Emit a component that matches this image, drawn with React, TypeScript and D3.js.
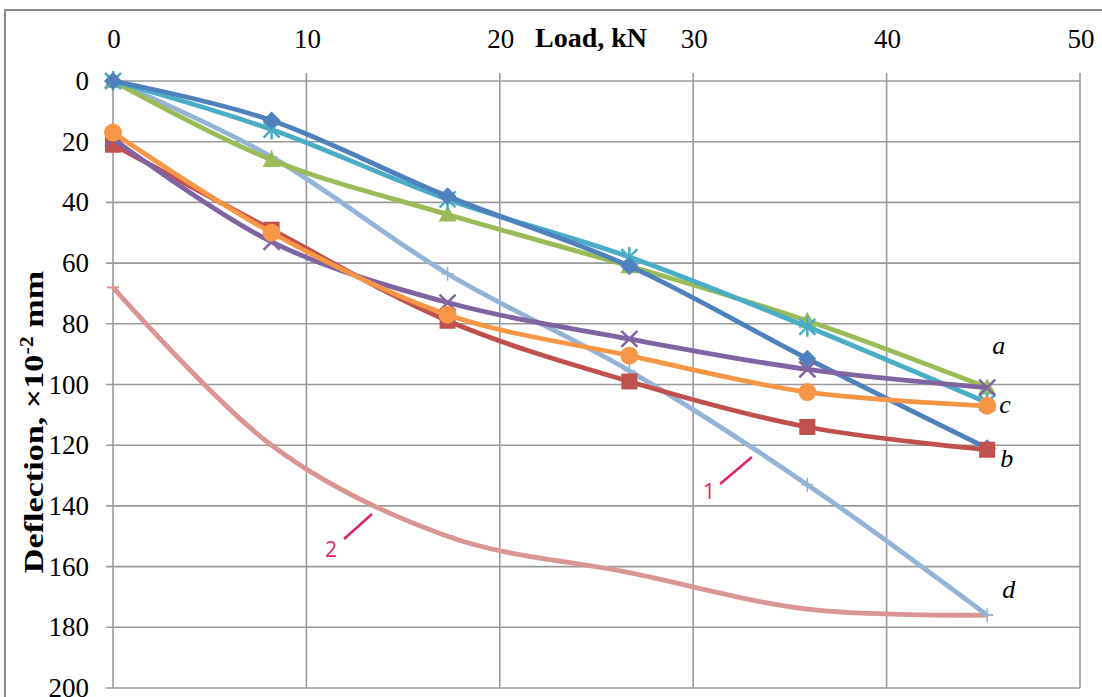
import React from "react";
import * as d3 from "d3";

const loads = [0, 8.2, 17.3, 26.7, 35.9, 45.2];
const xTicks = [0, 10, 20, 30, 40, 50];
const yTicks = [0, 20, 40, 60, 80, 100, 120, 140, 160, 180, 200];

const seriesBlue = [0, 13, 38, 61, 91.5, 121];
const seriesRed = [21, 49, 79, 99, 114, 121.5];
const seriesGreen = [0, 26, 44, 61, 79, 101];
const seriesPurple = [19, 53, 73, 85, 95, 101];
const seriesTeal = [0, 16, 39, 58, 81, 106];
const seriesOrange = [17, 50, 77, 90.5, 102.5, 107];
const series1 = [0, 25, 63.5, 95.5, 133, 176];
const series2 = [68, 120, 150, 162, 174, 176];

const seriesDefs = [
  { name: "2", values: series2, color: "#D99694", marker: "dash" },
  { name: "1", values: series1, color: "#95B3D7", marker: "plus" },
  { name: "green", values: seriesGreen, color: "#9BBB59", marker: "triangle" },
  { name: "teal", values: seriesTeal, color: "#4BACC6", marker: "star" },
  { name: "blue", values: seriesBlue, color: "#4F81BD", marker: "diamond" },
  { name: "red", values: seriesRed, color: "#C0504D", marker: "square" },
  { name: "purple", values: seriesPurple, color: "#8064A2", marker: "x" },
  { name: "orange", values: seriesOrange, color: "#F79646", marker: "circle" },
];

const endLabels = [
  { text: "a", x: 45.2, y: 101, dx: 5, dy: -34 },
  { text: "c", x: 45.2, y: 104, dx: 12, dy: 16 },
  { text: "b", x: 45.2, y: 121.5, dx: 13, dy: 17 },
  { text: "d", x: 45.2, y: 176, dx: 15, dy: -17 },
];

function Marker({ type, x, y, color }: { type: string; x: number; y: number; color: string }) {
  switch (type) {
    case "diamond":
      return <path d={`M${x},${y - 9}L${x + 9},${y}L${x},${y + 9}L${x - 9},${y}Z`} fill={color} />;
    case "square":
      return <rect x={x - 8} y={y - 8} width={16} height={16} fill={color} />;
    case "triangle":
      return <path d={`M${x},${y - 9}L${x + 9},${y + 7}L${x - 9},${y + 7}Z`} fill={color} />;
    case "circle":
      return <circle cx={x} cy={y} r={9} fill={color} />;
    case "x":
      return (
        <path d={`M${x - 8},${y - 8}L${x + 8},${y + 8}M${x - 8},${y + 8}L${x + 8},${y - 8}`} stroke={color} strokeWidth={2.5} />
      );
    case "star":
      return (
        <path
          d={`M${x - 8},${y - 8}L${x + 8},${y + 8}M${x - 8},${y + 8}L${x + 8},${y - 8}M${x},${y - 10}L${x},${y + 10}`}
          stroke={color}
          strokeWidth={2.5}
        />
      );
    case "plus":
      return <path d={`M${x - 6},${y}L${x + 6},${y}M${x},${y - 7}L${x},${y + 7}`} stroke={color} strokeWidth={1.5} />;
    case "dash":
      return <path d={`M${x - 6},${y}L${x + 6},${y}`} stroke={color} strokeWidth={2} />;
    default:
      return null;
  }
}

export default function App() {
  const W = 1102;
  const H = 697;
  const x = d3.scaleLinear().domain([0, 50]).range([113, 1080]);
  const y = d3.scaleLinear().domain([0, 200]).range([81, 688]);
  const line = d3
    .line<number>()
    .x((_, i) => x(loads[i]))
    .y((d) => y(d))
    .curve(d3.curveCatmullRom.alpha(0));

  const font = "'Liberation Serif', 'Times New Roman', serif";
  return (
    <svg width={W} height={H} style={{ position: "absolute", left: 0, top: 0, background: "#fff" }} fontFamily={font}>
      <rect x={5} y={10} width={1110} height={720} fill="#fff" stroke="#8c8c8c" strokeWidth={2} />
      {/* grid */}
      {yTicks.map((t) => (
        <line key={"gy" + t} x1={106} x2={x(50)} y1={y(t)} y2={y(t)} stroke="#9a9a9a" strokeWidth={1.6} />
      ))}
      {xTicks.map((t) => (
        <line key={"gx" + t} x1={x(t)} x2={x(t)} y1={73} y2={y(200)} stroke="#9a9a9a" strokeWidth={1.6} />
      ))}
      {/* tick labels */}
      {xTicks.map((t) => (
        <text key={"tx" + t} x={x(t) + 1} y={48} textAnchor="middle" fontSize={27}>
          {t}
        </text>
      ))}
      {yTicks.map((t) => (
        <text key={"ty" + t} x={89} y={y(t) + 9} textAnchor="end" fontSize={27}>
          {t}
        </text>
      ))}
      <text x={591} y={47} textAnchor="middle" fontSize={28} fontWeight="bold">
        Load, kN
      </text>
      <text
        transform="translate(43,422) rotate(-90) scale(1.22,1)"
        textAnchor="middle"
        fontSize={28}
        fontWeight="bold"
      >
        Deflection, ×10
        <tspan dy={-10} fontSize={18}>-2</tspan>
        <tspan dy={10}> mm</tspan>
      </text>
      {/* series */}
      {seriesDefs.map((s) => (
        <g key={s.name}>
          <path d={line(s.values) || ""} fill="none" stroke={s.color} strokeWidth={4.8} />
          {s.values.map((v, i) => (
            <Marker key={i} type={s.marker} x={x(loads[i])} y={y(v)} color={s.color} />
          ))}
        </g>
      ))}
      {/* end labels */}
      {endLabels.map((l) => (
        <text key={l.text} x={x(l.x) + l.dx} y={y(l.y) + l.dy} fontSize={26} fontStyle="italic">
          {l.text}
        </text>
      ))}
      {/* callouts */}
      <line x1={720} y1={484} x2={752} y2={457} stroke="#E0245E" strokeWidth={2.5} />
      <text x={703} y={499} fontSize={21} fill="#E0245E" fontFamily="'Open Sans', sans-serif">1</text>
      <line x1={344} y1={539} x2={372} y2={514} stroke="#E0245E" strokeWidth={2.5} />
      <text x={325} y={557} fontSize={21} fill="#E0245E" fontFamily="'Open Sans', sans-serif">2</text>
    </svg>
  );
}
